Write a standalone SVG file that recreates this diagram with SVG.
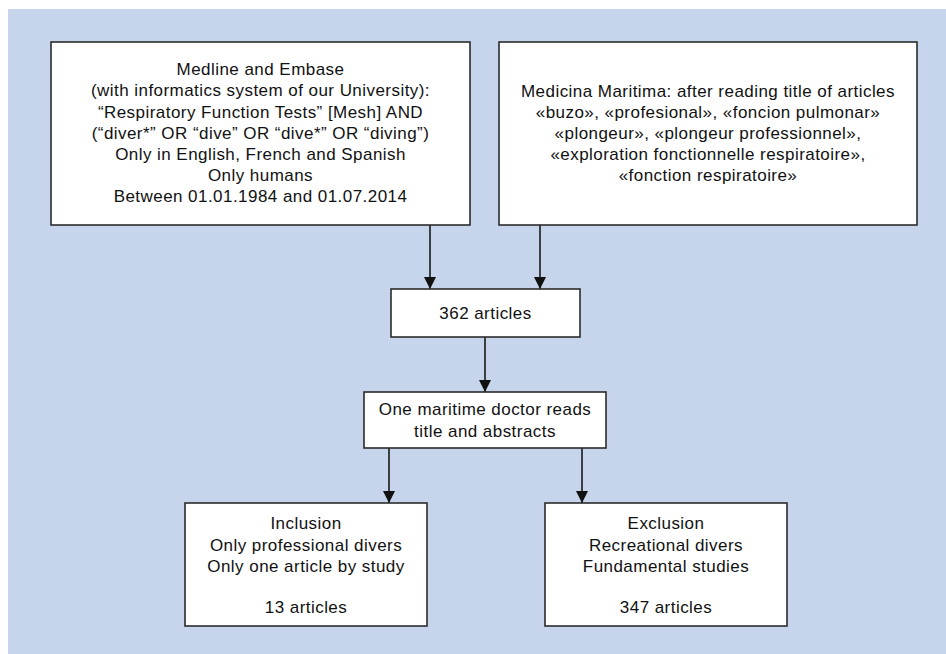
<svg xmlns="http://www.w3.org/2000/svg" width="946" height="654" viewBox="0 0 946 654">
<defs>
<style>
.bg{fill:#c6d5ec;}
.box{fill:#ffffff;stroke:#2b2b2b;stroke-width:1.6;}
.t{font-family:"Liberation Sans",Arial,sans-serif;font-size:17px;fill:#111;text-anchor:middle;letter-spacing:0.45px;}
.edge{stroke:#1a1a1a;stroke-width:1.6;fill:none;marker-end:url(#ah);}
</style>
<marker id="ah" viewBox="0 0 12 12" refX="12" refY="6" markerWidth="12" markerHeight="12" markerUnits="userSpaceOnUse" orient="auto">
<path d="M0,0 L12,6 L0,12 Z" fill="#111"/>
</marker>
</defs>
<rect class="bg" x="8" y="9" width="938" height="645"/>
<g id="connectors">
<line class="edge" x1="430" y1="225" x2="430" y2="289"/>
<line class="edge" x1="540" y1="225" x2="540" y2="289"/>
<line class="edge" x1="485" y1="337" x2="485" y2="392"/>
<line class="edge" x1="389" y1="448" x2="389" y2="503"/>
<line class="edge" x1="582" y1="448" x2="582" y2="503"/>
</g>
<g id="medline">
<rect class="box" x="51" y="42" width="419" height="183"/>
<text class="t" x="260.5" y="75.3">Medline and Embase</text>
<text class="t" x="260.5" y="96.4">(with informatics system of our University):</text>
<text class="t" x="260.5" y="117.5">“Respiratory Function Tests” [Mesh] AND</text>
<text class="t" x="260.5" y="138.6">(“diver*” OR “dive” OR “dive*” OR “diving”)</text>
<text class="t" x="260.5" y="159.7">Only in English, French and Spanish</text>
<text class="t" x="260.5" y="180.8">Only humans</text>
<text class="t" x="260.5" y="201.9">Between 01.01.1984 and 01.07.2014</text>
</g>
<g id="medicina">
<rect class="box" x="499" y="42" width="418" height="183"/>
<text class="t" x="708" y="96.7">Medicina Maritima: after reading title of articles</text>
<text class="t" x="708" y="117.8">«buzo», «profesional», «foncion pulmonar»</text>
<text class="t" x="708" y="138.9">«plongeur», «plongeur professionnel»,</text>
<text class="t" x="708" y="160">«exploration fonctionnelle respiratoire»,</text>
<text class="t" x="708" y="181">«fonction respiratoire»</text>
</g>
<g id="n362">
<rect class="box" x="391" y="289" width="189" height="48"/>
<text class="t" x="485.5" y="319.3">362 articles</text>
</g>
<g id="doctor">
<rect class="box" x="364" y="392" width="242" height="56"/>
<text class="t" x="485" y="415">One maritime doctor reads</text>
<text class="t" x="485" y="436.7">title and abstracts</text>
</g>
<g id="inclusion">
<rect class="box" x="185" y="503" width="242" height="123"/>
<text class="t" x="306" y="529">Inclusion</text>
<text class="t" x="306" y="550.5">Only professional divers</text>
<text class="t" x="306" y="571.7">Only one article by study</text>
<text class="t" x="306" y="612.7">13 articles</text>
</g>
<g id="exclusion">
<rect class="box" x="545" y="503" width="242" height="123"/>
<text class="t" x="666" y="529">Exclusion</text>
<text class="t" x="666" y="550.5">Recreational divers</text>
<text class="t" x="666" y="571.7">Fundamental studies</text>
<text class="t" x="666" y="612.7">347 articles</text>
</g>
</svg>
